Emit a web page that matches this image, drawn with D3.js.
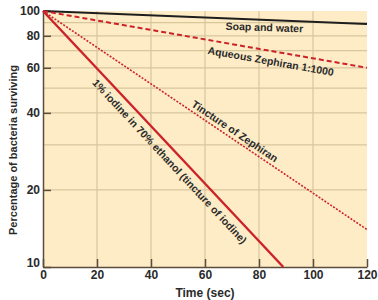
<!DOCTYPE html>
<html><head><meta charset="utf-8">
<script src="https://cdn.jsdelivr.net/npm/d3@7"></script>
<style>
body{margin:0;background:#fff;}
text{font-family:"Liberation Sans",Arial,sans-serif;font-weight:bold;fill:#2a2a2a;}
</style></head>
<body><svg id="c" width="378" height="300"></svg>
<script>
const times = [0, 120];
const soapValues = [100, 89];
const aqueousValues = [100, 60];
const tinctureZephValues = [100, 14];
const iodineTimes = [0, 89];
const iodineValues = [100, 10];
const xTicks = [0, 20, 40, 60, 80, 100, 120];
const yTicks = [10, 20, 40, 60, 80, 100];
const yGrid = [20, 30, 40, 50, 60, 70, 80, 90];
const xGrid = [20, 40, 60, 80, 100];
const labels = [
  {text:"Soap and water", t:82, v:86.6, rot:2},
  {text:"Aqueous Zephiran 1:1000", t:84.4, v:63.8, rot:10},
  {text:"Tincture of Zephiran", t:71.1, v:34, rot:34},
  {text:"1% iodine in 70% ethanol (tincture of iodine)", t:47, v:25.9, rot:47}
];

const svg = d3.select("#c");
const x = d3.scaleLinear().domain([0,120]).range([43,367]);
const y = d3.scaleLog().domain([10,100]).range([267,11]);

svg.append("rect").attr("x",x(0)).attr("y",y(100)).attr("width",x(120)-x(0)).attr("height",y(10)-y(100)).attr("fill","#fdecc6");

svg.append("g").selectAll("line").data(yGrid).join("line")
  .attr("x1",x(0)).attr("x2",x(120)).attr("y1",d=>y(d)).attr("y2",d=>y(d))
  .attr("stroke","#d8c69c").attr("stroke-width",1.2);
svg.append("g").selectAll("line").data(xGrid).join("line")
  .attr("x1",d=>x(d)).attr("x2",d=>x(d)).attr("y1",y(10)).attr("y2",y(100))
  .attr("stroke","#d8c69c").attr("stroke-width",1.2);

const axisColor = "#5b4c3c";
const xAxis = d3.axisBottom(x).tickValues(xTicks).tickSizeInner(-8).tickSizeOuter(0).tickPadding(3).tickFormat(d3.format("d"));
const gx = svg.append("g").attr("transform",`translate(0,${y(10)})`).call(xAxis);
gx.select(".domain").attr("stroke",axisColor).attr("stroke-width",1.5);
gx.selectAll(".tick line").attr("stroke",axisColor).attr("stroke-width",1.5);
gx.selectAll("text").attr("font-size",12).attr("fill","#2a2a2a").attr("font-family","Liberation Sans, Arial, sans-serif").attr("font-weight","bold");

const yAxis = d3.axisLeft(y).tickValues(yTicks).tickSizeInner(-8).tickSizeOuter(0).tickPadding(3).tickFormat(d3.format("d"));
const gy = svg.append("g").attr("transform",`translate(${x(0)},0)`).call(yAxis);
gy.select(".domain").attr("stroke",axisColor).attr("stroke-width",1.5);
gy.selectAll(".tick line").attr("stroke",axisColor).attr("stroke-width",1.5);
gy.selectAll("text").attr("font-size",12).attr("fill","#2a2a2a").attr("font-family","Liberation Sans, Arial, sans-serif").attr("font-weight","bold")
  .attr("dy",d=>d===10?"-0.05em":"0.32em");

const line = d3.line().x(d=>x(d[0])).y(d=>y(d[1]));
const zip = (a,b)=>a.map((t,i)=>[t,b[i]]);
svg.append("path").attr("d",line(zip(times,soapValues))).attr("fill","none").attr("stroke","#1e1e1e").attr("stroke-width",2);
svg.append("path").attr("d",line(zip(times,aqueousValues))).attr("fill","none").attr("stroke","#cc2229").attr("stroke-width",2).attr("stroke-dasharray","5,3");
svg.append("path").attr("d",line(zip(times,tinctureZephValues))).attr("fill","none").attr("stroke","#cc2229").attr("stroke-width",1.6).attr("stroke-dasharray","2,1.5");
svg.append("path").attr("d",line(zip(iodineTimes,iodineValues))).attr("fill","none").attr("stroke","#cc2229").attr("stroke-width",2.4);

svg.append("g").selectAll("text").data(labels).join("text")
  .attr("transform",d=>`translate(${x(d.t)},${y(d.v)}) rotate(${d.rot})`)
  .attr("text-anchor","middle").attr("dominant-baseline","central")
  .attr("font-size",10.5).text(d=>d.text);

svg.append("text").attr("x",205).attr("y",297).attr("text-anchor","middle").attr("font-size",12).text("Time (sec)");
svg.append("text").attr("transform","translate(17,150) rotate(-90)").attr("text-anchor","middle").attr("font-size",11).text("Percentage of bacteria surviving");
</script></body></html>
